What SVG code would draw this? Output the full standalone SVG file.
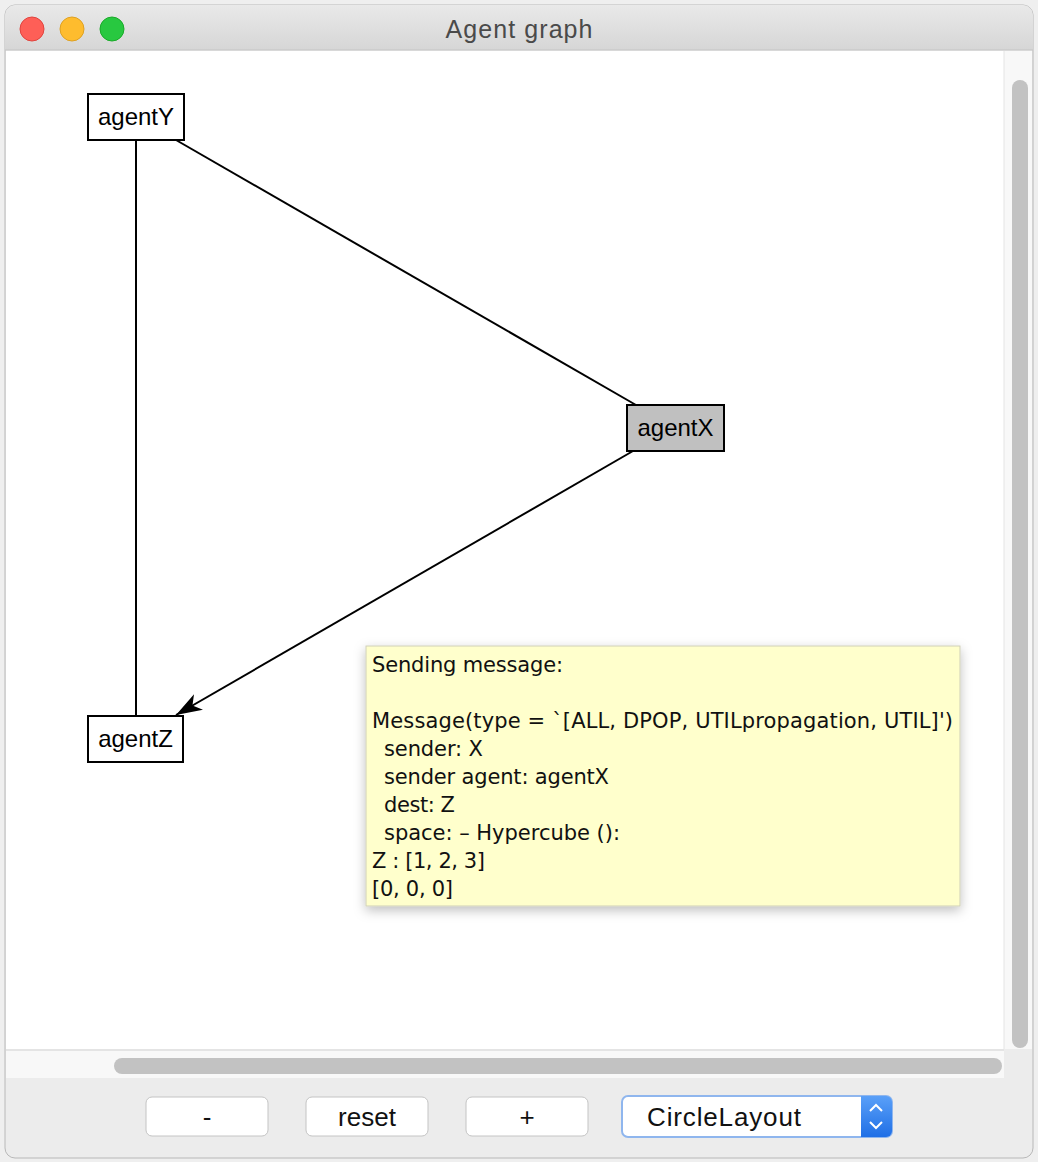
<svg xmlns="http://www.w3.org/2000/svg" width="1038" height="1162" viewBox="0 0 1038 1162">
<defs>
<style>
.node rect{stroke:#000;stroke-width:2}
.node text{font-family:"Liberation Sans",Arial,sans-serif;font-size:24px;fill:#000;text-anchor:middle}
.edge{stroke:#000;stroke-width:2;fill:none}
.tip{font-family:"DejaVu Sans","Open Sans",sans-serif;font-size:21px;fill:#111}
.btn rect{fill:#fff;stroke:#c4c4c4;stroke-width:1}
.btn text{font-family:"Liberation Sans",Arial,sans-serif;font-size:26px;fill:#111;text-anchor:middle}
</style>
<linearGradient id="tb" x1="0" y1="0" x2="0" y2="1">
<stop offset="0" stop-color="#e9e9e9"/>
<stop offset="1" stop-color="#d6d6d6"/>
</linearGradient>
<linearGradient id="blue" x1="0" y1="0" x2="0" y2="1">
<stop offset="0" stop-color="#5aa0f8"/>
<stop offset="1" stop-color="#1f6fe6"/>
</linearGradient>
<filter id="sh" x="-10%" y="-10%" width="120%" height="130%">
<feDropShadow dx="0" dy="4" stdDeviation="6" flood-color="#000" flood-opacity="0.25"/>
</filter>
<marker id="arr" viewBox="0 0 26 18" refX="26" refY="9" markerWidth="26" markerHeight="18" markerUnits="userSpaceOnUse" orient="auto">
<path d="M0,0 L26,9 L0,18 L7,9 Z" fill="#000"/>
</marker>
</defs>
<rect x="0" y="0" width="1038" height="1162" fill="#efefef"/>
<!-- window -->
<rect x="5" y="5" width="1028" height="1153" rx="10" fill="#ececec" stroke="#b8b8b8"/>
<path d="M5,50 V15 a10,10 0 0 1 10,-10 H1023 a10,10 0 0 1 10,10 V50 Z" fill="url(#tb)"/>
<line x1="5" y1="50" x2="1033" y2="50" stroke="#c4c4c4"/>
<circle cx="32" cy="29" r="12" fill="#fe5f57" stroke="#e0443e" stroke-width="1"/>
<circle cx="72" cy="29" r="12" fill="#febc2e" stroke="#dea123" stroke-width="1"/>
<circle cx="112" cy="29" r="12" fill="#28c840" stroke="#1aab29" stroke-width="1"/>
<text x="519" y="38" font-family="Liberation Sans,Arial,sans-serif" font-size="25" fill="#4a4a4a" text-anchor="middle" textLength="147">Agent graph</text>
<!-- canvas -->
<rect x="6" y="51" width="998" height="998" fill="#fff"/>
<rect x="1004" y="51" width="28" height="998" fill="#f8f8f8"/>
<line x1="1004" y1="51" x2="1004" y2="1049" stroke="#e4e4e4"/>
<rect x="1012" y="80" width="16" height="968" rx="8" fill="#c2c2c2"/>
<line x1="6" y1="1050" x2="1004" y2="1050" stroke="#dcdcdc"/>
<rect x="6" y="1051" width="998" height="27" fill="#f8f8f8"/>
<rect x="114" y="1058" width="888" height="16" rx="8" fill="#c2c2c2"/>
<!-- connectors -->
<g id="connectors">
<line class="edge" x1="136" y1="140" x2="136" y2="716"/>
<line class="edge" x1="176" y1="140" x2="636" y2="405"/>
<line class="edge" x1="633" y1="451" x2="176" y2="715" marker-end="url(#arr)"/>
</g>
<!-- nodes -->
<g id="agentY" class="node"><rect x="88" y="94" width="96" height="46" fill="#fff"/><text x="136" y="125">agentY</text></g>
<g id="agentX" class="node"><rect x="627" y="405" width="97" height="46" fill="#c0c0c0"/><text x="675.5" y="436">agentX</text></g>
<g id="agentZ" class="node"><rect x="88" y="716" width="95" height="46" fill="#fff"/><text x="135.5" y="747">agentZ</text></g>
<!-- tooltip -->
<g id="tooltip">
<rect x="366" y="646" width="594" height="260" fill="#ffffcc" stroke="#cfcfb8" filter="url(#sh)"/>
<text class="tip" x="372" y="672" textLength="191">Sending message:</text>
<text class="tip" x="372" y="728" textLength="581">Message(type =  `[ALL, DPOP, UTILpropagation, UTIL]')</text>
<text class="tip" x="384" y="756" textLength="99">sender: X</text>
<text class="tip" x="384" y="784" textLength="225">sender agent: agentX</text>
<text class="tip" x="384" y="812" textLength="71">dest: Z</text>
<text class="tip" x="384" y="840" textLength="236">space: – Hypercube ():</text>
<text class="tip" x="372" y="868" textLength="113">Z : [1, 2, 3]</text>
<text class="tip" x="372" y="896" textLength="81">[0, 0, 0]</text>
</g>
<!-- controls -->
<g id="btn-minus" class="btn"><rect x="146" y="1097" width="122" height="39" rx="6"/><text x="207" y="1126">-</text></g>
<g id="btn-reset" class="btn"><rect x="306" y="1097" width="122" height="39" rx="6"/><text x="367" y="1126">reset</text></g>
<g id="btn-plus" class="btn"><rect x="466" y="1097" width="122" height="39" rx="6"/><text x="527" y="1126">+</text></g>
<g id="combo">
<rect x="622" y="1096" width="270" height="41" rx="6" fill="#fff" stroke="#8fb6ee" stroke-width="2"/>
<path d="M861,1096 H886 a6,6 0 0 1 6,6 V1131 a6,6 0 0 1 -6,6 H861 Z" fill="url(#blue)"/>
<path d="M870,1111 l6,-6 l6,6 M870,1122 l6,6 l6,-6" stroke="#fff" stroke-width="2" fill="none"/>
<text x="647" y="1126" font-family="Liberation Sans,Arial,sans-serif" font-size="26" fill="#111" textLength="154">CircleLayout</text>
</g>
</svg>
